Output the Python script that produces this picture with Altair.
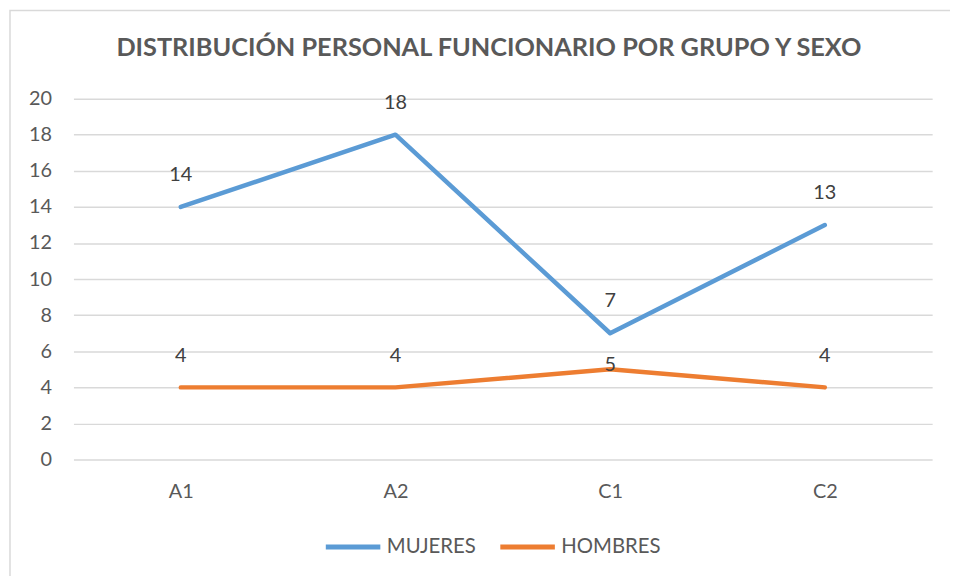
import altair as alt
import pandas as pd

grupos = ["A1", "A2", "C1", "C2"]
mujeres = [14, 18, 7, 13]
hombres = [4, 4, 5, 4]
series = ["MUJERES", "HOMBRES"]
colores = ["#5B9BD5", "#ED7D31"]
y_ticks = [0, 2, 4, 6, 8, 10, 12, 14, 16, 18, 20]

rows = []
for g, m, h in zip(grupos, mujeres, hombres):
    rows.append({"grupo": g, "serie": "MUJERES", "valor": m})
    rows.append({"grupo": g, "serie": "HOMBRES", "valor": h})
df = pd.DataFrame(rows)

FONT = "Lato"
GRAY = "#595959"
FS = 20

x_enc = alt.X("grupo:N", sort=grupos, scale=alt.Scale(type="point", padding=0.5),
              axis=alt.Axis(title=None, labelAngle=0, labelFontSize=FS, labelColor=GRAY,
                            labelFont=FONT, ticks=False, domain=False, grid=False, labelPadding=22))
y_enc = alt.Y("valor:Q", scale=alt.Scale(domain=[0, 20], nice=False),
              axis=alt.Axis(title=None, values=y_ticks, tickCount=11, labelFontSize=FS,
                            labelColor=GRAY, labelFont=FONT, ticks=False, domain=False,
                            gridColor="#d9d9d9", gridWidth=1.5, labelPadding=22,
                            labelOverlap=False))
color_enc = alt.Color("serie:N", sort=series, scale=alt.Scale(domain=series, range=colores),
                      legend=alt.Legend(title=None, orient="none", legendX=252, legendY=422,
                                        direction="horizontal", symbolType="stroke",
                                        symbolSize=3025, symbolStrokeWidth=5,
                                        labelFontSize=20.5, labelColor=GRAY, labelFont=FONT,
                                        labelOffset=4, columnPadding=14, padding=0))

base = alt.Chart(df)

border = alt.Chart(pd.DataFrame({"a": [0]})).mark_rect(
    fill="transparent", stroke="#d9d9d9", strokeWidth=1.5
).encode(x=alt.value(-64), x2=alt.value(920), y=alt.value(-89), y2=alt.value(520))

lines = base.mark_line(strokeWidth=4.5, strokeCap="round", strokeJoin="round").encode(
    x=x_enc, y=y_enc, color=color_enc, detail="serie:N"
)

labels = base.transform_filter(
    ~((alt.datum.serie == "HOMBRES") & (alt.datum.grupo == "C1"))
).mark_text(dy=-32, fontSize=FS, font=FONT, color="#404040").encode(
    x=x_enc, y=y_enc, text="valor:Q"
)
labels_c1 = base.transform_filter(
    (alt.datum.serie == "HOMBRES") & (alt.datum.grupo == "C1")
).mark_text(dy=-4, fontSize=FS, font=FONT, color="#404040").encode(
    x=x_enc, y=y_enc, text="valor:Q"
)

chart = alt.layer(border, lines, labels, labels_c1).properties(
    width=866, height=364,
    title=alt.TitleParams("DISTRIBUCIÓN PERSONAL FUNCIONARIO POR GRUPO Y SEXO",
                          fontSize=25.5, font=FONT, fontWeight="bold", color=GRAY,
                          anchor="middle", dx=-14, offset=-52),
    autosize=alt.AutoSizeParams(type="none"),
    padding={"left": 66, "top": 89, "right": 18, "bottom": 115},
).configure_view(stroke=None)

chart.save("out.html", embed_options={"renderer": "svg", "actions": False})
